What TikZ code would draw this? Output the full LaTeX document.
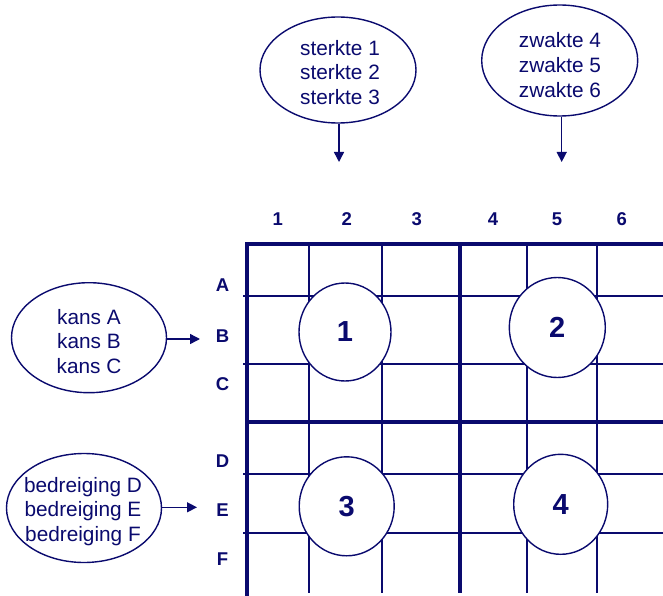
\documentclass[tikz,border=0pt]{standalone}
\usepackage{fontspec}
\setmainfont{Liberation Sans}
\usetikzlibrary{arrows.meta,shapes.geometric}
\definecolor{navy}{RGB}{10,10,110}
\begin{document}
\begin{tikzpicture}[x=1pt,y=-1pt,
  thick line/.style={draw=navy,line width=4pt},
  thin line/.style={draw=navy,line width=2pt},
  bubble/.style={ellipse,draw=navy,line width=1.4pt,fill=white,inner sep=0pt},
  bubbletext/.style={inner sep=0pt,text=navy,align=center,font=\fontsize{20.8}{24.7}\selectfont},
  ring/.style={ellipse,draw=navy,line width=1.4pt,fill=white,inner sep=0pt,text=navy,font=\fontsize{29}{30}\selectfont\bfseries},
  lab/.style={text=navy,font=\fontsize{18.5}{20}\selectfont\bfseries,inner sep=0pt},
  conn/.style={draw=navy,line width=1.4pt,-{Triangle[length=10pt,width=10pt]}}]
\useasboundingbox (0,0) rectangle (663,596);
% thin grid lines
\foreach \x in {309.3,382.3,526.7,596.7} \draw[thin line] (\x,244) -- (\x,593);
\foreach \y in {295.7,364.3,474,533.3} \draw[thin line] (243,\y) -- (663,\y);
% thick grid lines
\draw[thick line] (246.5,596) -- (246.5,244) -- (663,244);
\draw[thick line] (460,244) -- (460,593);
\draw[thick line] (246.5,422.3) -- (663,422.3);
% column labels
\foreach \x/\t in {277.7/1,346.7/2,416.7/3,493/4,557/5,621.7/6} \node[lab] (c\t) at (\x,219) {\t};
% row labels
\foreach \y/\t in {285/A,336/B,384/C,461/D,510/E,559/F} \node[lab] (r\t) at (222.5,\y) {\t};
% circles
\node[ring,minimum width=92pt,minimum height=98pt] (k1) at (345,332) {1};
\node[ring,minimum width=96pt,minimum height=100pt] (k2) at (557.3,327.5) {2};
\node[ring,minimum width=95pt,minimum height=99pt] (k3) at (346.7,506.3) {3};
\node[ring,minimum width=94pt,minimum height=100pt] (k4) at (560.7,504.3) {4};
% bubbles
\node[bubble,minimum width=156pt,minimum height=106pt] (sterk) at (338,70) {};
\node[bubble,minimum width=156pt,minimum height=111pt] (zwak) at (559.7,60.5) {};
\node[bubble,minimum width=155pt,minimum height=110pt] (kans) at (89,337.7) {};
\node[bubble,minimum width=155pt,minimum height=109pt] (bedr) at (84,508) {};
\node[bubbletext] (sterkT) at (340,72.5) {sterkte 1\\sterkte 2\\sterkte 3};
\node[bubbletext] (zwakT) at (560,65) {zwakte 4\\zwakte 5\\zwakte 6};
\node[bubbletext] (kansT) at (89,341.5) {kans A\\kans B\\kans C};
\node[bubbletext] (bedrT) at (83,511.5) {bedreiging D\\bedreiging E\\bedreiging F};
% arrow ends
\coordinate (e1) at (339,162);
\coordinate (e2) at (561.7,162);
\coordinate (e3) at (200,339);
\coordinate (e4) at (197,507.3);
\draw[conn] (sterk.south -| e1) -- (e1);
\draw[conn] (zwak.south -| e2) -- (e2);
\draw[conn] (kans.east |- e3) -- (e3);
\draw[conn] (bedr.east |- e4) -- (e4);
\end{tikzpicture}
\end{document}
